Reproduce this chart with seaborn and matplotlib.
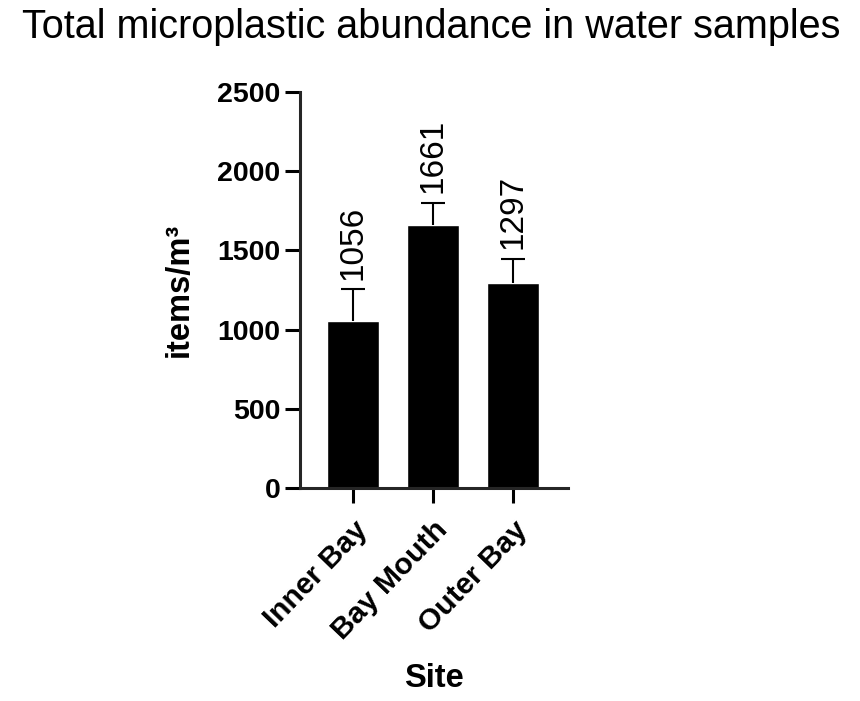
import matplotlib
matplotlib.use("Agg")
import matplotlib.pyplot as plt
import seaborn as sns
import pandas as pd

# Données
sites = ["Inner Bay", "Bay Mouth", "Outer Bay"]
abundance = [1056, 1661, 1297]
error = [200, 140, 150]
y_ticks = [0, 500, 1000, 1500, 2000, 2500]

df = pd.DataFrame({"Site": sites, "items": abundance})

sns.set_style("ticks")
plt.rcParams["font.family"] = ["Liberation Sans", "DejaVu Sans"]
plt.rcParams["text.color"] = "black"
plt.rcParams["axes.labelcolor"] = "black"
plt.rcParams["xtick.color"] = "black"
plt.rcParams["ytick.color"] = "black"

fig = plt.figure(figsize=(8.6, 7.01), dpi=100)
ax = fig.add_axes([300 / 860, 1 - 488 / 701, 268 / 860, 396 / 701])

sns.barplot(data=df, x="Site", y="items", color="black", width=0.65,
            errorbar=None, ax=ax, saturation=1)

# Barres d'erreur (uniquement vers le haut)
_, caps, _ = ax.errorbar(range(len(sites)), abundance, yerr=[[0] * 3, error],
                         fmt="none", ecolor="black", elinewidth=1.5,
                         capsize=8.5, capthick=1.5, zorder=1)
caps[0].set_visible(False)

# Valeurs au-dessus des barres
for i, (v, e) in enumerate(zip(abundance, error)):
    ax.text(i, v + e + 60, str(v), rotation=90, ha="center", va="bottom",
            fontsize=24)

ax.set_ylim(0, 2500)
ax.set_xlim(-0.66, 2.69)
ax.set_yticks(y_ticks)
ax.set_xticks(range(len(sites)))
ax.set_xticklabels(sites, rotation=46, ha="right", rotation_mode="anchor",
                   fontsize=21.5, fontweight="bold")
for t in ax.get_yticklabels():
    t.set_fontsize(20.5)
    t.set_fontweight("bold")

ax.set_xlabel("Site", fontsize=23.5, fontweight="bold", labelpad=13)
ax.set_ylabel("items/m³", fontsize=23.5, fontweight="bold", labelpad=16)
ax.set_title("Total microplastic abundance in water samples", fontsize=28.5,
             x=(431 - 300) / 268, y=1.136, pad=0)

sns.despine(ax=ax)
for s in ["left", "bottom"]:
    ax.spines[s].set_linewidth(2.2)
ax.tick_params(width=2.2, length=11, pad=3)
ax.tick_params(axis="x", pad=9)

fig.savefig("out.png", dpi=100)
